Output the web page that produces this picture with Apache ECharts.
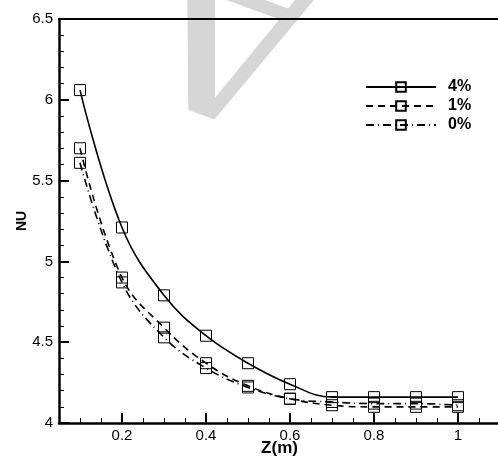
<!DOCTYPE html>
<html>
<head>
<meta charset="utf-8">
<script src="https://cdn.jsdelivr.net/npm/echarts@6/dist/echarts.min.js"></script>
<style>
  html, body { margin: 0; padding: 0; background: #fff; }
  #chart { width: 498px; height: 460px; }
</style>
</head>
<body>
<div id="chart"></div>
<script>
const zValues = [0.1, 0.2, 0.3, 0.4, 0.5, 0.6, 0.7, 0.8, 0.9, 1.0];
const nu4 = [6.06, 5.21, 4.79, 4.54, 4.37, 4.24, 4.16, 4.16, 4.16, 4.16];
const nu1 = [5.70, 4.90, 4.59, 4.37, 4.23, 4.15, 4.11, 4.10, 4.10, 4.10];
const nu0 = [5.61, 4.87, 4.53, 4.34, 4.22, 4.15, 4.13, 4.12, 4.12, 4.11];
const xTicks = [0.2, 0.4, 0.6, 0.8, 1];
const seriesNames = ["4%", "1%", "0%"];

const font = "Liberation Sans";

const toPairs = ys => zValues.map((z, i) => [z, ys[i]]);

const makeSeries = (name, ys, lineType) => ({
  name: name,
  type: "line",
  data: toPairs(ys),
  smooth: 0.4,
  symbol: "rect",
  symbolSize: 11,
  itemStyle: {
    color: "rgba(0,0,0,0)",
    borderColor: "#000",
    borderWidth: 1
  },
  lineStyle: {
    color: "#000",
    width: 1.6,
    type: lineType
  }
});

const chart = echarts.init(document.getElementById("chart"));

chart.setOption({
  animation: false,
  // faint watermark letter behind the plot
  graphic: [
    {
      type: "text",
      x: 240,
      y: 2,
      rotation: (160 * Math.PI) / 180,
      z: -10,
      style: {
        text: "A",
        font: "300px 'Liberation Serif'",
        fill: "#d6d6d6",
        align: "center",
        verticalAlign: "middle"
      }
    }
  ],
  grid: {
    left: 59,
    right: -2,
    top: 19,
    bottom: 37,
    outerBoundsMode: "none"
  },
  legend: {
    data: seriesNames,
    orient: "vertical",
    left: 365,
    top: 79,
    padding: 0,
    itemWidth: 70,
    itemHeight: 12,
    itemGap: 3,
    textStyle: {
      fontFamily: font,
      fontSize: 16,
      fontWeight: "bold",
      color: "#000",
      padding: [0, 0, 0, 7]
    }
  },
  xAxis: [
    {
      type: "value",
      position: "bottom",
      min: 0.05,
      max: 1.1,
      name: "Z(m)",
      nameLocation: "middle",
      nameGap: 17,
      nameMoveOverlap: false,
      nameTextStyle: {
        fontFamily: font,
        fontSize: 17,
        fontWeight: "bold",
        color: "#000"
      },
      axisLine: { show: true, lineStyle: { color: "#000", width: 2.5 } },
      axisTick: {
        show: true,
        inside: true,
        length: 10,
        customValues: xTicks,
        lineStyle: { color: "#000", width: 2 }
      },
      axisLabel: {
        customValues: xTicks,
        margin: 5,
        fontFamily: font,
        fontSize: 15,
        color: "#000",
        formatter: v => String(v)
      },
      splitLine: { show: false }
    },
    {
      type: "value",
      position: "bottom",
      min: 0.05,
      max: 1.1,
      interval: 0.05,
      axisLine: { show: false },
      axisTick: {
        show: true,
        inside: true,
        length: 5,
        lineStyle: { color: "#000", width: 1 }
      },
      axisLabel: { show: false },
      splitLine: { show: false }
    },
    {
      type: "value",
      position: "top",
      min: 0.05,
      max: 1.1,
      axisLine: { show: true, lineStyle: { color: "#000", width: 2 } },
      axisTick: { show: false },
      axisLabel: { show: false },
      splitLine: { show: false }
    }
  ],
  yAxis: {
    type: "value",
    min: 4,
    max: 6.5,
    interval: 0.5,
    name: "NU",
    nameLocation: "middle",
    nameGap: 30,
    nameMoveOverlap: false,
    nameRotate: 90,
    nameTextStyle: {
      fontFamily: font,
      fontSize: 14,
      fontWeight: "bold",
      color: "#000"
    },
    axisLine: { show: true, lineStyle: { color: "#000", width: 2.5 } },
    axisTick: {
      show: true,
      inside: true,
      length: 10,
      lineStyle: { color: "#000", width: 2 }
    },
    minorTick: {
      show: true,
      splitNumber: 5,
      length: 5,
      lineStyle: { color: "#000", width: 1 }
    },
    axisLabel: {
      margin: 6,
      fontFamily: font,
      fontSize: 15,
      color: "#000",
      formatter: v => String(v)
    },
    splitLine: { show: false }
  },
  series: [
    makeSeries(seriesNames[0], nu4, "solid"),
    makeSeries(seriesNames[1], nu1, [7, 5]),
    makeSeries(seriesNames[2], nu0, [8, 4, 1, 4])
  ]
});
</script>
</body>
</html>
